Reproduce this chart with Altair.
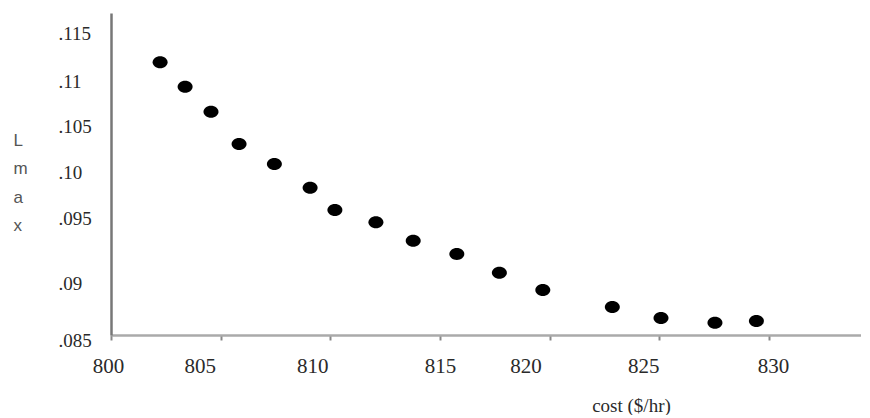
import altair as alt
import pandas as pd

# Data
cost = [802.24, 803.38, 804.56, 805.84, 807.45, 809.08, 810.21, 812.08,
        813.78, 815.77, 817.71, 819.69, 822.86, 825.08, 827.54, 829.43]
lmax = [0.11165, 0.10926, 0.10682, 0.10367, 0.10171, 0.09939, 0.09722, 0.09601,
        0.09422, 0.09292, 0.09109, 0.08940, 0.08774, 0.08666, 0.08620, 0.08637]

x_ticks = [800, 805, 810, 815, 820, 825, 830]
x_label_shift = [-3, -21, -18, 0, -24, -16, 4]

y_ticks = [0.085, 0.09, 0.095, 0.10, 0.105, 0.11, 0.115]
y_tick_labels = [".085", ".09", ".095", ".10", ".105", ".11", ".115"]
y_label_shift = [5, 0, -14, -9.5, -4, 2, 5]

df = pd.DataFrame({"cost": cost, "lmax": lmax})


def shift_condition(values, shifts):
    conds = [{"test": f"abs(datum.value - {v}) < 1e-9", "value": s}
             for v, s in zip(values, shifts) if s != 0]
    return {"condition": conds, "value": 0}


def label_expr(values, labels):
    expr = "''"
    for v, l in zip(values, labels):
        expr = f"abs(datum.value - {v}) < 1e-9 ? '{l}' : ({expr})"
    return expr


ELLIPSE = "M-1,0 A1,0.8 0 1,1 1,0 A1,0.8 0 1,1 -1,0 Z"

chart = (
    alt.Chart(df)
    .mark_point(filled=True, shape=ELLIPSE, size=225, color="black", opacity=1)
    .encode(
        x=alt.X(
            "cost:Q",
            scale=alt.Scale(domain=[800, 834.2], nice=False, zero=False),
            axis=alt.Axis(
                values=x_ticks,
                format="d",
                grid=False,
                domainColor="#aaaaaa",
                domainWidth=2.5,
                tickColor="#888888",
                tickSize=5,
                tickWidth=2,
                labelFont="Liberation Serif",
                labelFontSize=21,
                labelColor="#2a2a2a",
                labelPadding=15,
                labelFlush=False,
                labelOverlap=False,
                labelBound=False,
                labelOffset=shift_condition(x_ticks, x_label_shift),
                title="cost ($/hr)",
                titleFont="Liberation Serif",
                titleFontSize=19,
                titleFontWeight="normal",
                titleColor="#2a2a2a",
                titleX=520,
                titleY=70,
                titleAlign="center",
                titleBaseline="middle",
            ),
        ),
        y=alt.Y(
            "lmax:Q",
            scale=alt.Scale(domain=[0.085, 0.11647], nice=False, zero=False),
            axis=alt.Axis(
                values=y_ticks,
                labelExpr=label_expr(y_ticks, y_tick_labels),
                grid=False,
                ticks=False,
                tickSize=0,
                domainColor="#777777",
                domainWidth=2.5,
                labelAlign="left",
                labelBaseline="middle",
                labelPadding=53,
                labelFont="Liberation Serif",
                labelFontSize=19,
                labelColor="#2a2a2a",
                labelFlush=False,
                labelOverlap=False,
                labelBound=False,
                labelOffset=shift_condition(y_ticks, y_label_shift),
                title=["L", "m", "a", "x"],
                titleAngle=0,
                titleAlign="left",
                titleBaseline="top",
                titleX=-98,
                titleY=119,
                titleFont="Liberation Sans",
                titleFontSize=17,
                titleFontWeight="normal",
                titleColor="#555555",
                titleLineHeight=28.5,
            ),
        ),
    )
    .properties(
        width=750,
        height=322,
        autosize=alt.AutoSizeParams(type="none"),
        padding={"left": 103, "top": 5, "right": 0, "bottom": 80},
    )
    .configure_view(stroke=None)
)

chart.save("out.html", embed_options={"renderer": "svg", "actions": False})
